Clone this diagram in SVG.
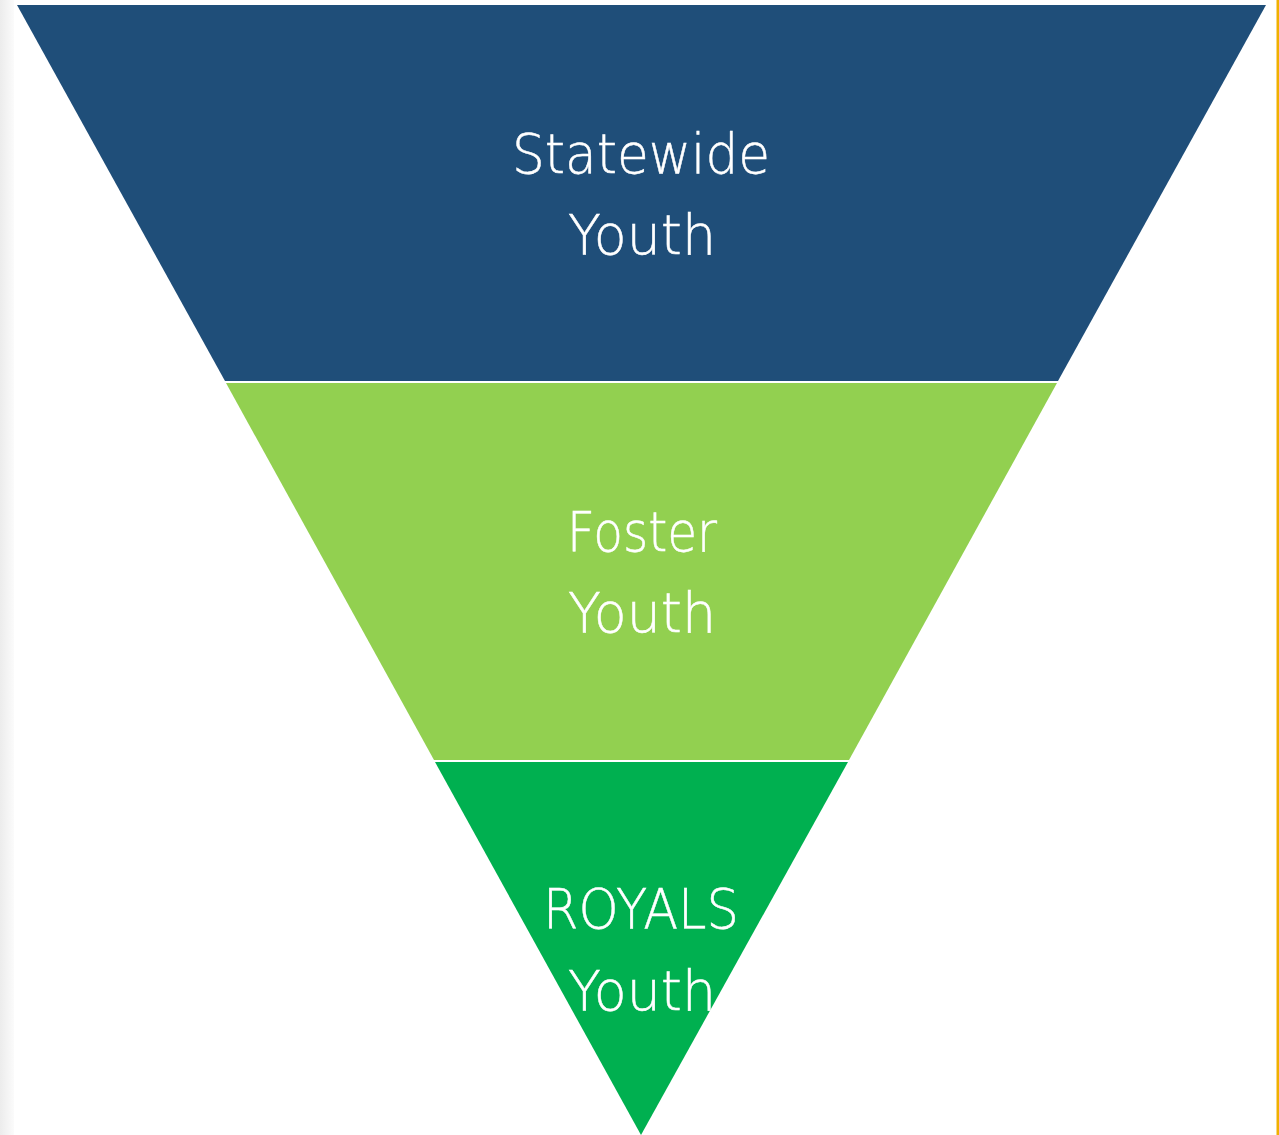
<svg xmlns="http://www.w3.org/2000/svg" width="1279" height="1135" viewBox="0 0 1279 1135">
  <defs>
    <linearGradient id="shadow" x1="0" y1="0" x2="1" y2="0">
      <stop offset="0" stop-color="#ececec"/>
      <stop offset="1" stop-color="#fbfbfb"/>
    </linearGradient>
    <style>
      .lbl { font-family: "DejaVu Sans", "Liberation Sans", sans-serif; font-weight: 200; font-size: 55px; fill: #ffffff; text-anchor: middle; stroke: #ffffff; stroke-width: 0.5px; }
    </style>
  </defs>
  <rect x="0" y="0" width="1279" height="1135" fill="#ffffff"/>
  <rect x="0" y="0" width="14" height="1135" fill="url(#shadow)"/>
  <rect x="1276.5" y="0" width="2.5" height="1135" fill="#F0B000"/>
  <g id="statewide">
    <polygon points="17,5 1266,5 1058,381 225,381" fill="#1F4E79"/>
    <text class="lbl" x="641" y="173" textLength="258" lengthAdjust="spacingAndGlyphs">Statewide</text>
    <text class="lbl" x="642" y="254" textLength="148" lengthAdjust="spacingAndGlyphs">Youth</text>
  </g>
  <g id="foster">
    <polygon points="226,383 1057,383 849,760 434,760" fill="#92D050"/>
    <text class="lbl" x="642" y="551" textLength="150" lengthAdjust="spacingAndGlyphs">Foster</text>
    <text class="lbl" x="642" y="632" textLength="148" lengthAdjust="spacingAndGlyphs">Youth</text>
  </g>
  <g id="royals">
    <polygon points="435,762 848,762 641,1135" fill="#00B050"/>
    <text class="lbl" x="641" y="928" textLength="196" lengthAdjust="spacingAndGlyphs">ROYALS</text>
    <text class="lbl" x="642" y="1010" textLength="148" lengthAdjust="spacingAndGlyphs">Youth</text>
  </g>
</svg>
